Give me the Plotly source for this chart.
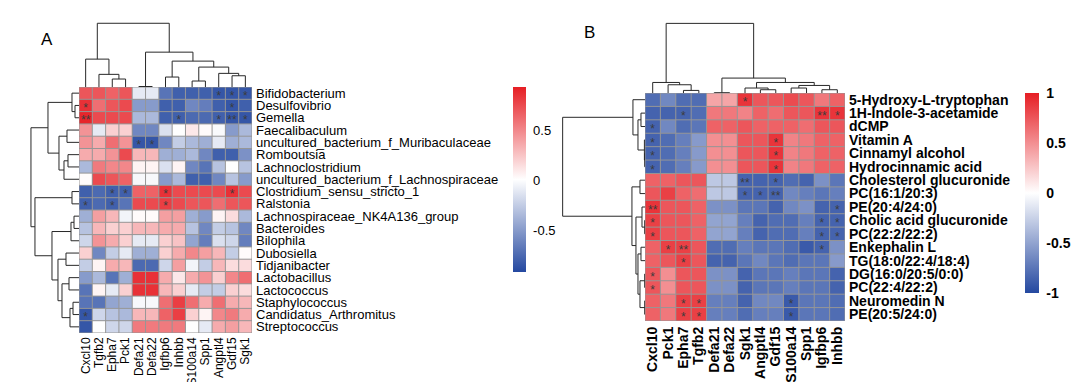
import plotly.graph_objects as go

W, H = 1080, 382

# ---------------- data: panel A ----------------
cols_A = ["Cxcl10", "Tgfb2", "Epha7", "Pck1", "Defa21", "Defa22", "Igfbp6",
          "Inhbb", "S100a14", "Spp1", "Angptl4", "Gdf15", "Sgk1"]
rows_A = ["Bifidobacterium", "Desulfovibrio", "Gemella", "Faecalibaculum",
          "uncultured_bacterium_f_Muribaculaceae", "Romboutsia", "Lachnoclostridium",
          "uncultured_bacterium_f_Lachnospiraceae", "Clostridium_sensu_stricto_1",
          "Ralstonia", "Lachnospiraceae_NK4A136_group", "Bacteroides", "Bilophila",
          "Dubosiella", "Tidjanibacter", "Lactobacillus", "Lactococcus",
          "Staphylococcus", "Candidatus_Arthromitus", "Streptococcus"]
vals_A = [
    [0.70, 0.70, 0.65, 0.70, -0.10, -0.10, -0.70, -0.80, -0.80, -0.80, -0.85, -0.85, -0.85],
    [0.85, 0.60, 0.70, 0.75, -0.50, -0.50, -0.80, -0.80, -0.60, -0.65, -0.80, -0.85, -0.80],
    [0.90, 0.75, 0.75, 0.75, -0.35, -0.35, -0.80, -0.80, -0.75, -0.75, -0.80, -0.85, -0.85],
    [0.45, -0.10, 0.20, 0.20, -0.60, -0.60, -0.15, 0.00, 0.10, 0.02, -0.02, -0.50, -0.35],
    [0.45, 0.35, 0.60, 0.45, -0.85, -0.85, -0.60, -0.25, -0.35, -0.40, -0.10, -0.40, -0.35],
    [0.35, 0.35, 0.45, 0.75, 0.30, 0.30, -0.40, -0.40, -0.35, -0.60, -0.80, -0.80, -0.55],
    [-0.35, 0.55, 0.50, 0.50, 0.05, 0.05, -0.15, 0.05, -0.60, -0.70, -0.30, 0.00, -0.30],
    [0.02, 0.75, 0.70, 0.65, -0.03, -0.03, -0.50, -0.35, -0.80, -0.80, -0.60, -0.30, -0.50],
    [-0.80, -0.75, -0.80, -0.80, 0.65, 0.65, 0.85, 0.75, 0.75, 0.75, 0.75, 0.85, 0.75],
    [-0.80, -0.75, -0.80, -0.70, 0.75, 0.75, 0.80, 0.75, 0.70, 0.70, 0.60, 0.70, 0.70],
    [-0.40, 0.40, 0.30, -0.05, 0.02, 0.02, 0.40, 0.40, -0.40, -0.50, 0.05, 0.15, -0.35],
    [-0.30, 0.30, 0.20, 0.20, 0.30, 0.30, 0.35, 0.35, -0.30, -0.60, -0.25, -0.30, -0.60],
    [-0.20, 0.45, 0.35, 0.20, -0.10, -0.10, 0.20, 0.25, -0.45, -0.65, -0.15, -0.20, -0.65],
    [0.20, -0.60, -0.25, -0.10, -0.40, -0.40, 0.20, 0.35, 0.50, 0.40, 0.30, -0.25, 0.02],
    [-0.25, 0.05, 0.35, 0.30, -0.75, -0.75, -0.20, 0.40, -0.05, -0.25, 0.30, 0.15, 0.15],
    [-0.50, -0.35, -0.70, -0.40, 0.85, 0.85, 0.35, 0.10, 0.35, 0.45, 0.20, 0.50, 0.60],
    [-0.70, 0.05, -0.10, 0.20, 0.85, 0.85, 0.30, 0.20, -0.10, -0.25, -0.25, 0.20, 0.15],
    [-0.70, -0.70, -0.45, -0.40, -0.03, -0.03, 0.60, 0.80, 0.60, 0.35, 0.60, 0.35, 0.30],
    [-0.85, -0.20, -0.30, -0.35, 0.30, 0.30, 0.65, 0.80, 0.20, 0.05, 0.50, 0.55, 0.35],
    [-0.85, 0.00, -0.20, -0.20, 0.55, 0.55, 0.55, 0.55, 0.00, -0.10, 0.35, 0.40, 0.30],
]
stars_A = [(0, 10, "*"), (0, 11, "*"), (0, 12, "*"),
           (1, 0, "*"), (1, 11, "*"),
           (2, 0, "**"), (2, 7, "*"), (2, 10, "*"), (2, 11, "**"), (2, 12, "*"),
           (4, 4, "*"), (4, 5, "*"),
           (8, 2, "*"), (8, 3, "*"), (8, 6, "*"), (8, 11, "*"),
           (9, 0, "*"), (9, 2, "*"), (9, 6, "*"),
           (18, 0, "*")]
# dendrogram linkages: (left id, right id, height); leaves in display order
col_link_A = [(2, 3, 8), (1, 13, 12.7), (0, 14, 28), (4, 5, 0.5), (6, 7, 10),
              (8, 9, 6), (11, 12, 11.3), (10, 19, 13.7), (18, 20, 20),
              (17, 21, 26), (16, 22, 35), (15, 23, 64)]
row_link_A = [(1, 2, 4), (0, 20, 7), (3, 4, 12), (5, 6, 11), (23, 7, 15),
              (22, 24, 20), (21, 25, 31), (8, 9, 7), (10, 11, 5), (28, 12, 8),
              (13, 14, 13), (15, 16, 10), (17, 18, 6), (32, 19, 9), (31, 33, 17),
              (30, 34, 21), (29, 35, 27), (27, 36, 44), (26, 37, 48)]
cbar_ticks_A = [-0.5, 0, 0.5]

# ---------------- data: panel B ----------------
cols_B = ["Cxcl10", "Pck1", "Epha7", "Tgfb2", "Defa21", "Defa22", "Sgk1",
          "Angptl4", "Gdf15", "S100a14", "Spp1", "Igfbp6", "Inhbb"]
rows_B = ["5-Hydroxy-L-tryptophan", "1H-Indole-3-acetamide", "dCMP", "Vitamin A",
          "Cinnamyl alcohol", "Hydrocinnamic acid", "Cholesterol glucuronide",
          "PC(16:1/20:3)", "PE(20:4/24:0)", "Cholic acid glucuronide",
          "PC(22:2/22:2)", "Enkephalin L", "TG(18:0/22:4/18:4)", "DG(16:0/20:5/0:0)",
          "PC(22:4/22:2)", "Neuromedin N", "PE(20:5/24:0)"]
vals_B = [
    [-0.80, -0.65, -0.80, -0.80, 0.40, 0.40, 0.90, 0.75, 0.75, 0.80, 0.75, 0.60, 0.70],
    [-0.85, -0.85, -0.85, -0.80, 0.60, 0.60, 0.55, 0.70, 0.65, 0.75, 0.75, 0.90, 0.90],
    [-0.85, -0.65, -0.80, -0.75, 0.70, 0.70, 0.75, 0.70, 0.70, 0.70, 0.65, 0.75, 0.75],
    [-0.85, -0.80, -0.70, -0.55, 0.50, 0.50, 0.75, 0.75, 0.90, 0.55, 0.60, 0.70, 0.70],
    [-0.85, -0.80, -0.70, -0.55, 0.50, 0.50, 0.75, 0.75, 0.90, 0.55, 0.60, 0.70, 0.70],
    [-0.85, -0.80, -0.70, -0.55, 0.50, 0.50, 0.75, 0.75, 0.90, 0.55, 0.60, 0.70, 0.70],
    [0.70, 0.70, 0.75, 0.75, -0.30, -0.30, -0.85, -0.85, -0.85, -0.80, -0.85, -0.60, -0.75],
    [0.75, 0.85, 0.70, 0.65, -0.30, -0.30, -0.85, -0.85, -0.85, -0.65, -0.70, -0.75, -0.70],
    [0.90, 0.75, 0.75, 0.70, -0.60, -0.60, -0.75, -0.75, -0.85, -0.65, -0.60, -0.85, -0.85],
    [0.85, 0.75, 0.75, 0.70, -0.50, -0.50, -0.70, -0.85, -0.80, -0.80, -0.70, -0.85, -0.85],
    [0.85, 0.75, 0.75, 0.70, -0.50, -0.50, -0.70, -0.85, -0.80, -0.80, -0.70, -0.85, -0.85],
    [0.70, 0.85, 0.85, 0.75, -0.80, -0.80, -0.70, -0.75, -0.75, -0.80, -0.90, -0.85, -0.60],
    [0.70, 0.75, 0.85, 0.75, -0.85, -0.85, -0.75, -0.65, -0.75, -0.80, -0.75, -0.75, -0.55],
    [0.75, 0.50, 0.75, 0.75, -0.60, -0.60, -0.85, -0.75, -0.75, -0.70, -0.75, -0.75, -0.85],
    [0.75, 0.50, 0.75, 0.75, -0.60, -0.60, -0.85, -0.75, -0.75, -0.70, -0.75, -0.75, -0.85],
    [0.70, 0.60, 0.85, 0.85, -0.70, -0.70, -0.85, -0.65, -0.65, -0.90, -0.75, -0.75, -0.80],
    [0.70, 0.60, 0.85, 0.85, -0.70, -0.70, -0.80, -0.70, -0.70, -0.90, -0.75, -0.75, -0.80],
]
stars_B = [(0, 6, "*"),
           (1, 2, "*"), (1, 11, "**"), (1, 12, "*"),
           (2, 0, "*"),
           (3, 0, "*"), (3, 8, "*"), (4, 0, "*"), (4, 8, "*"), (5, 0, "*"), (5, 8, "*"),
           (6, 6, "**"), (6, 8, "*"),
           (7, 6, "*"), (7, 7, "*"), (7, 8, "**"),
           (8, 0, "**"), (8, 12, "*"),
           (9, 0, "*"), (9, 11, "*"), (9, 12, "*"),
           (10, 0, "*"), (10, 11, "*"), (10, 12, "*"),
           (11, 1, "*"), (11, 2, "**"), (11, 11, "*"),
           (12, 2, "*"), (13, 0, "*"), (14, 0, "*"),
           (15, 2, "*"), (15, 3, "*"), (15, 9, "*"),
           (16, 2, "*"), (16, 3, "*"), (16, 9, "*")]
col_link_B = [(2, 3, 2.6), (1, 13, 8.3), (0, 14, 10.6), (4, 5, 0.3), (7, 8, 3.3),
              (6, 17, 5), (9, 10, 5), (11, 12, 3.3), (19, 20, 7.6), (18, 21, 10.6),
              (16, 22, 15), (15, 23, 70)]
row_link_B = [(1, 2, 4), (4, 5, 0.3), (3, 18, 0.6), (17, 19, 7), (0, 20, 12),
              (6, 7, 5), (9, 10, 0.3), (8, 23, 3), (11, 12, 4), (13, 14, 0.3),
              (15, 16, 0.3), (26, 27, 5), (25, 28, 7), (24, 29, 9), (22, 30, 13),
              (21, 31, 82)]
cbar_ticks_B = [-1, -0.5, 0, 0.5, 1]

# ---------------- styling ----------------
COLORSCALE = [[0.0, "rgb(36,72,160)"], [0.5, "rgb(255,255,255)"], [1.0, "rgb(230,30,36)"]]
GRID = "rgb(150,150,150)"
LINE = "rgb(40,40,40)"
FONT = "Liberation Sans, Arial, sans-serif"


def px_x(a, b):
    return [a / W, b / W]


def px_y(top, bottom):
    return [1 - bottom / H, 1 - top / H]


def dendro_lines(link, n):
    pos = {i: float(i) for i in range(n)}
    hgt = {i: 0.0 for i in range(n)}
    p, h = [], []
    for k, (a, b, hh) in enumerate(link):
        p += [pos[a], pos[a], pos[b], pos[b], None]
        h += [hgt[a], hh, hh, hgt[b], None]
        pos[n + k] = (pos[a] + pos[b]) / 2
        hgt[n + k] = hh
    return p, h


def grid_lines(nr, nc):
    xs, ys = [], []
    for c in range(nc + 1):
        xs += [c - 0.5, c - 0.5, None]
        ys += [-0.5, nr - 0.5, None]
    for r in range(nr + 1):
        xs += [-0.5, nc - 0.5, None]
        ys += [r - 0.5, r - 0.5, None]
    return xs, ys


fig = go.Figure()
layout = dict(width=W, height=H, margin=dict(l=0, r=0, t=0, b=0),
              paper_bgcolor="white", plot_bgcolor="rgba(0,0,0,0)",
              showlegend=False, font=dict(family=FONT, color="black"))

panels = [
    dict(rows=rows_A, cols=cols_A, vals=vals_A, stars=stars_A, clink=col_link_A,
         rlink=row_link_A, ticks=cbar_ticks_A, zmin=-0.92, zmax=0.93,
         hx=(79, 252), hy=(87, 333), cdy=(22, 87), rdx=(30, 79),
         cb=(513, 87, 185, 13), bold=False, rfs=13, cfs=12, cstand=1, cbfs=13, ax=1),
    dict(rows=rows_B, cols=cols_B, vals=vals_B, stars=stars_B, clink=col_link_B,
         rlink=row_link_B, ticks=cbar_ticks_B, zmin=-1, zmax=1,
         hx=(645, 845), hy=(93, 321), cdy=(22, 93), rdx=(561, 645),
         cb=(1025, 93, 200, 14), bold=True, rfs=14, cfs=14, cstand=2, cbfs=14, ax=4),
]

for P in panels:
    nr, nc = len(P["rows"]), len(P["cols"])
    a = P["ax"]
    hxn, hyn = f"x{a if a > 1 else ''}", f"y{a if a > 1 else ''}"
    cxn, cyn = f"x{a + 1}", f"y{a + 1}"
    rxn, ryn = f"x{a + 2}", f"y{a + 2}"
    fam = "Liberation Sans, Arial, sans-serif"
    lab = (lambda s: f"<b>{s}</b>") if P["bold"] else (lambda s: s)
    cbx, cby, cbl, cbt = P["cb"]

    fig.add_trace(go.Heatmap(
        z=P["vals"], x=list(range(nc)), y=list(range(nr)),
        colorscale=COLORSCALE, zmin=P["zmin"], zmax=P["zmax"],
        xaxis=hxn, yaxis=hyn, hoverinfo="skip",
        colorbar=dict(x=cbx / W, xanchor="left", y=1 - cby / H, yanchor="top",
                      len=cbl, lenmode="pixels", thickness=cbt, thicknessmode="pixels",
                      xpad=0, ypad=0, outlinewidth=0, tickvals=P["ticks"],
                      ticktext=[lab(f"{t:g}") for t in P["ticks"]],
                      ticks="outside", ticklen=5, tickcolor="rgba(0,0,0,0)",
                      tickfont=dict(size=P["cbfs"], family=fam, color="black"))))
    gx, gy = grid_lines(nr, nc)
    fig.add_trace(go.Scatter(x=gx, y=gy, mode="lines", xaxis=hxn, yaxis=hyn,
                             line=dict(color=GRID, width=1), hoverinfo="skip"))
    fig.add_trace(go.Scatter(
        x=[s[1] for s in P["stars"]], y=[s[0] + 0.28 for s in P["stars"]],
        text=[s[2] for s in P["stars"]], mode="text", xaxis=hxn, yaxis=hyn,
        textfont=dict(size=12, color="rgb(60,60,60)", family=fam),
        textposition="middle center", hoverinfo="skip"))
    # column dendrogram
    dp, dh = dendro_lines(P["clink"], nc)
    fig.add_trace(go.Scatter(x=dp, y=dh, mode="lines", xaxis=cxn, yaxis=cyn,
                             line=dict(color=LINE, width=1), hoverinfo="skip"))
    # row dendrogram
    rp, rh = dendro_lines(P["rlink"], nr)
    fig.add_trace(go.Scatter(x=rh, y=rp, mode="lines", xaxis=rxn, yaxis=ryn,
                             line=dict(color=LINE, width=1), hoverinfo="skip"))

    base = dict(showgrid=False, zeroline=False, showline=False, automargin=False)
    kx = "xaxis" + (str(a) if a > 1 else "")
    ky = "yaxis" + (str(a) if a > 1 else "")
    layout[kx] = dict(base, domain=px_x(*P["hx"]), range=[-0.5, nc - 0.5],
                      anchor=hyn, tickmode="array", tickvals=list(range(nc)),
                      ticktext=[lab(c) for c in P["cols"]], tickangle=-90, ticks="",
                      ticklabelstandoff=P["cstand"],
                      tickfont=dict(size=P["cfs"], family=fam, color="black"))
    layout[ky] = dict(base, domain=px_y(*P["hy"]), range=[nr - 0.5, -0.5],
                      anchor=hxn, side="right", tickmode="array",
                      tickvals=list(range(nr)), ticktext=[lab(r) for r in P["rows"]],
                      ticks="", ticklabelstandoff=3,
                      tickfont=dict(size=P["rfs"], family=fam, color="black"))
    cmax = max(l[2] for l in P["clink"])
    layout[f"xaxis{a + 1}"] = dict(base, domain=px_x(*P["hx"]), range=[-0.5, nc - 0.5],
                                   anchor=cyn, visible=False)
    layout[f"yaxis{a + 1}"] = dict(base, domain=px_y(*P["cdy"]),
                                   range=[0, cmax * 1.02], anchor=cxn, visible=False)
    rmax = max(l[2] for l in P["rlink"])
    layout[f"xaxis{a + 2}"] = dict(base, domain=px_x(*P["rdx"]), range=[rmax * 1.02, 0],
                                   anchor=ryn, visible=False)
    layout[f"yaxis{a + 2}"] = dict(base, domain=px_y(*P["hy"]), range=[nr - 0.5, -0.5],
                                   anchor=rxn, visible=False)

layout["annotations"] = [
    dict(text="A", x=39 / W, y=1 - 39 / H, xref="paper", yref="paper",
         xanchor="left", yanchor="middle", showarrow=False,
         font=dict(size=17, family=FONT, color="black")),
    dict(text="B", x=582 / W, y=1 - 33 / H, xref="paper", yref="paper",
         xanchor="left", yanchor="middle", showarrow=False,
         font=dict(size=17, family=FONT, color="black")),
]
fig.update_layout(**layout)
fig.write_html("out.html", config={"displayModeBar": False},
               post_script="document.body.style.margin='0px';document.body.style.overflow='hidden';")
